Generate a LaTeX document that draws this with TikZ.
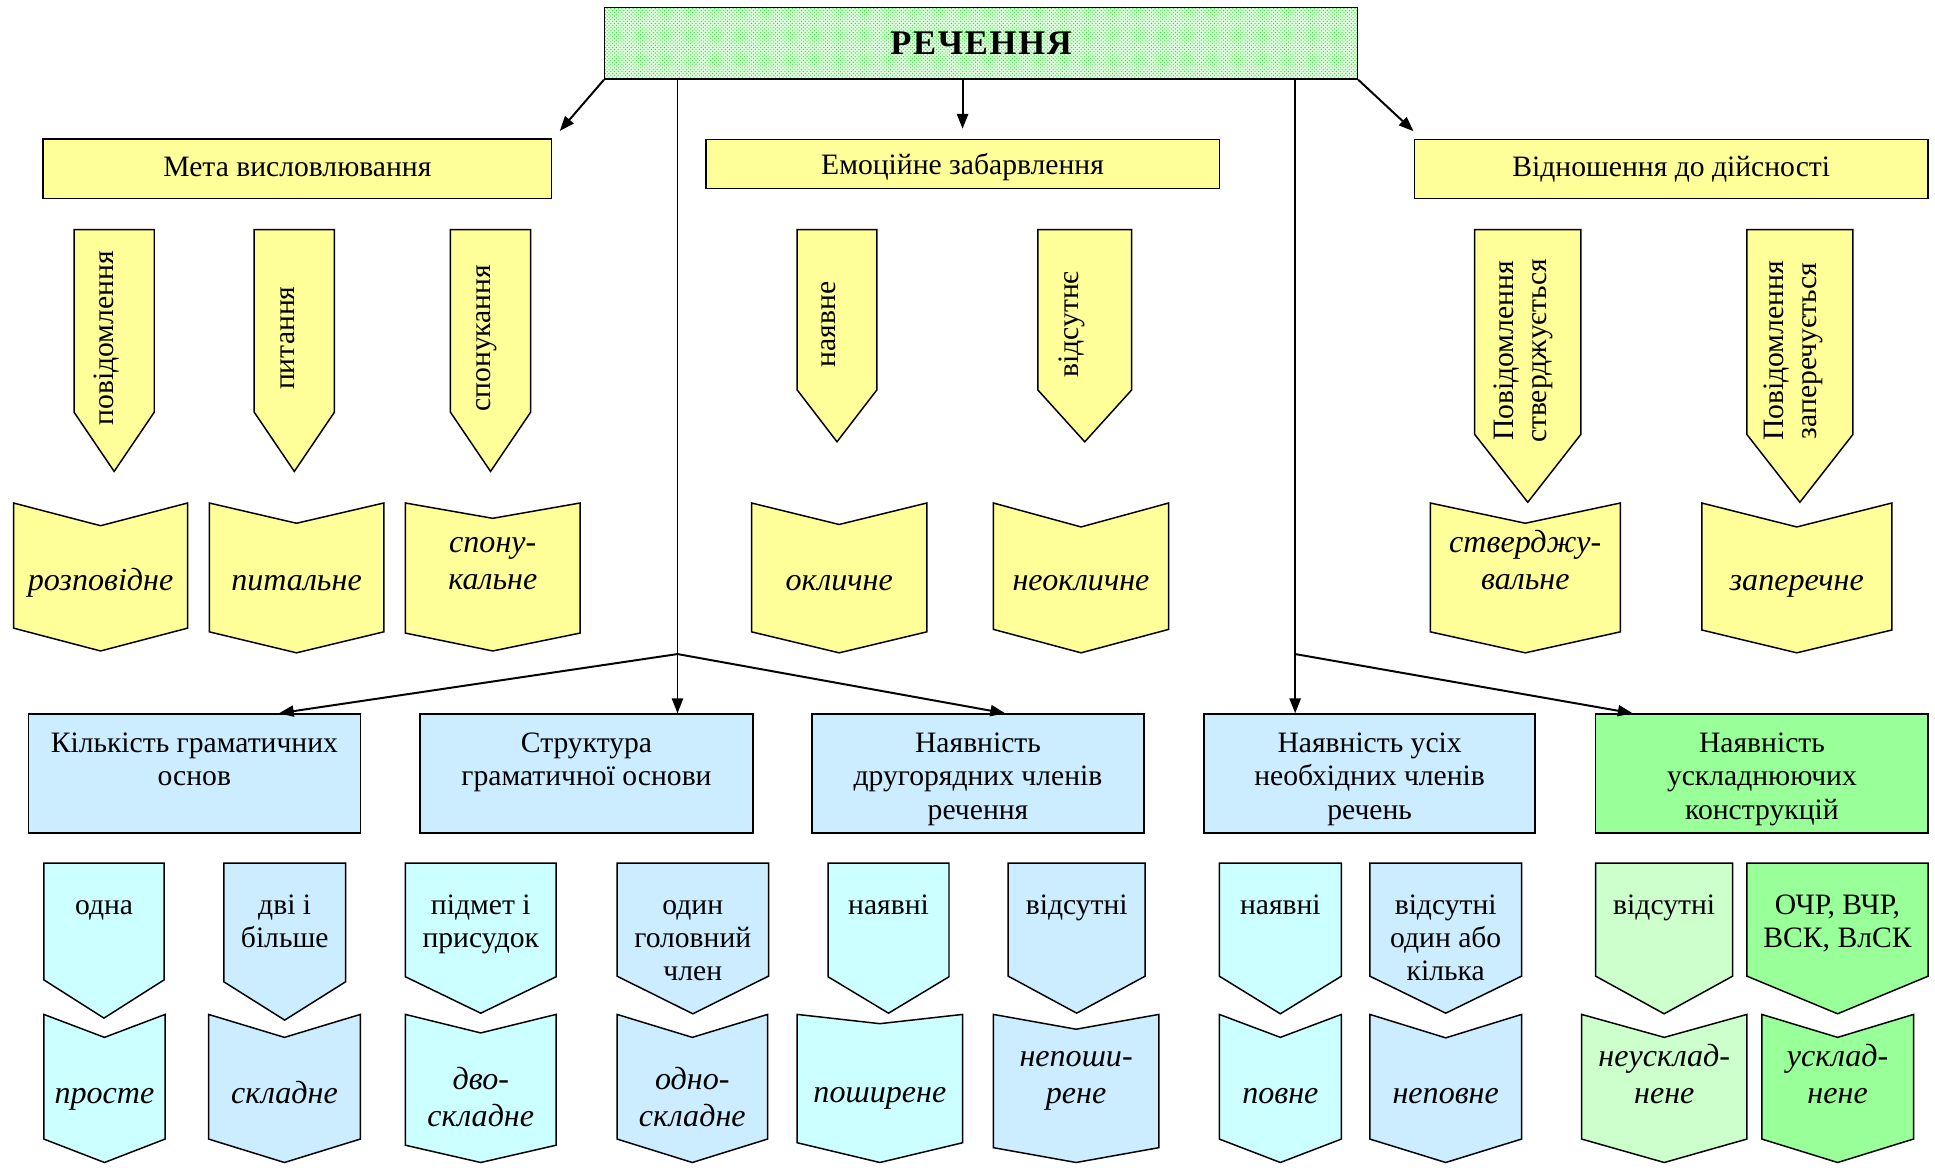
\documentclass[tikz,border=0pt]{standalone}
\usepackage{fontspec}
\setmainfont{Liberation Serif}
\newfontfamily\titlefont[LetterSpace=5]{Liberation Serif}
\usetikzlibrary{arrows.meta,patterns}

\definecolor{yel}{RGB}{255,255,153}
\definecolor{cyn}{RGB}{204,255,255}
\definecolor{blu}{RGB}{204,236,255}
\definecolor{pgr}{RGB}{204,255,204}
\definecolor{grn}{RGB}{153,255,153}
\definecolor{topbg}{RGB}{222,252,222}
\definecolor{topdot}{RGB}{30,225,30}

% down-pointing tag: x1, x2, top, shoulder, tip, fill
\newcommand\TagShape[6]{%
  \filldraw[shp, fill=#6] (#1,#3) -- (#2,#3) -- (#2,#4) -- ({(#1+#2)/2},#5) -- (#1,#4) -- cycle;}
% chevron: x1, x2, top, notch, bottom, tip, fill
\newcommand\ChevShape[7]{%
  \filldraw[shp, fill=#7] (#1,#3) -- ({(#1+#2)/2},#4) -- (#2,#3) -- (#2,#5) -- ({(#1+#2)/2},#6) -- (#1,#5) -- cycle;}

\begin{document}
\begin{tikzpicture}[x=1pt,y=-1pt,
  conn/.style={line width=1.6pt, draw=black},
  arr/.style={conn, -{Triangle[length=12pt,width=9pt]}},
  shp/.style={draw=black, line width=1.2pt, line join=miter},
  boxed/.style={draw=black, line width=1.2pt, inner sep=0pt},
  rm/.style={font=\fontsize{24}{27}\selectfont, inner sep=0pt, align=center},
  rmtop/.style={rm, anchor=north},
  it/.style={font=\fontsize{26}{30}\selectfont\itshape, inner sep=0pt, align=center},
  ittop/.style={it, anchor=north},
  vt/.style={rm, rotate=90, anchor=base},
  vt2/.style={rm, rotate=90, anchor=center},
]
\useasboundingbox (0,0) rectangle (1568,946);

% ---------- root ----------
\node[boxed, minimum width=610pt, minimum height=58pt,
      preaction={fill=topbg}, pattern=crosshatch dots, pattern color=topdot,
      font=\titlefont\bfseries\fontsize{28}{32}\selectfont,
      text height=18.5pt, text depth=0pt] (root) at (795,35) {РЕЧЕННЯ};

% ---------- first level headers ----------
\node[boxed, fill=yel, minimum width=412pt, minimum height=48pt, rm,
      text height=13pt, text depth=0pt] (meta) at (241,136.7) {Мета висловлювання};
\node[boxed, fill=yel, minimum width=416pt, minimum height=39.7pt, rm,
      text height=18pt, text depth=0pt] (emo) at (780,132.8) {Емоційне забарвлення};
\node[boxed, fill=yel, minimum width=416.5pt, minimum height=47.8pt, rm,
      text height=13pt, text depth=0pt] (rel) at (1354.25,136.8) {Відношення до дійсності};

% ---------- yellow tags ----------
\TagShape{60}{125}{186}{334}{382}{yel}
\TagShape{206}{271}{186}{334}{382}{yel}
\TagShape{365}{430}{186}{334}{382}{yel}
\TagShape{646}{710.5}{186}{316}{358}{yel}
\TagShape{841}{917}{186}{316}{358}{yel}
\TagShape{1195}{1281}{186}{352}{407}{yel}
\TagShape{1415.5}{1501.5}{186}{352}{407}{yel}

\node[vt] (q1) at (92,274) {повідомлення};
\node[vt] (q2) at (238.5,274) {питання};
\node[vt] (q3) at (397.5,274) {спонукання};
\node[vt] (q4) at (677,263) {наявне};
\node[vt] (q5) at (874,263) {відсутнє};
\node[vt2] (q6) at (1234.5,284.5) {Повідомлення\\стверджується};
\node[vt2] (q7) at (1453,284.5) {Повідомлення\\заперечується};

% ---------- yellow chevrons ----------
\ChevShape{11}{152}{407.6}{426}{509}{527.5}{yel}
\ChevShape{169.6}{311}{407.6}{424}{512}{529}{yel}
\ChevShape{328.5}{470}{407.6}{420}{513}{527.5}{yel}
\ChevShape{609}{751}{407.6}{425}{512}{529}{yel}
\ChevShape{805}{947}{407.6}{427}{510}{529}{yel}
\ChevShape{1159}{1313}{407.6}{424}{512}{529}{yel}
\ChevShape{1379}{1533}{407.6}{427}{510.5}{529}{yel}

\node[it, anchor=base] (r1) at (81.5,478.3) {розповідне};
\node[it, anchor=base] (r2) at (240.3,478.3) {питальне};
\node[ittop] (r3) at (399.3,426.6) {\strut спону-\\кальне};
\node[it, anchor=base] (r4) at (680,478.3) {окличне};
\node[it, anchor=base] (r5) at (876,478.3) {неокличне};
\node[ittop] (r6) at (1236,426.6) {\strut стверджу-\\вальне};
\node[it, anchor=base] (r7) at (1456,478.3) {заперечне};

% ---------- second level boxes ----------
\node[boxed, fill=blu, minimum width=269pt, minimum height=96.4pt] (kil) at (157.5,626.8) {};
\node[boxed, fill=blu, minimum width=269.5pt, minimum height=96.4pt] (str) at (475.25,626.8) {};
\node[boxed, fill=blu, minimum width=269pt, minimum height=96.4pt] (dru) at (792.5,626.8) {};
\node[boxed, fill=blu, minimum width=268.3pt, minimum height=96.4pt] (usi) at (1109.85,626.8) {};
\node[boxed, fill=grn, minimum width=269.5pt, minimum height=96.4pt] (usk) at (1427.75,626.8) {};

\node[rmtop] (kilT) at (kil.center |- 0,590.7) {\strut Кількість граматичних\\основ};
\node[rmtop] (strT) at (str.center |- 0,590.7) {\strut Структура\\граматичної основи};
\node[rmtop] (druT) at (dru.center |- 0,590.7) {\strut Наявність\\другорядних членів\\речення};
\node[rmtop] (usiT) at (usi.center |- 0,590.7) {\strut Наявність усіх\\необхідних членів\\речень};
\node[rmtop] (uskT) at (usk.center |- 0,590.7) {\strut Наявність\\ускладнюючих\\конструкцій};

% ---------- lower tags ----------
\TagShape{35.5}{133}{699.5}{794}{825}{cyn}
\TagShape{181.4}{280}{699.5}{795.6}{826.6}{blu}
\TagShape{328.5}{450.6}{699.5}{791.5}{821}{cyn}
\TagShape{500}{622.8}{699.5}{791}{821.5}{blu}
\TagShape{671}{769}{699.5}{791.5}{821}{cyn}
\TagShape{817}{928}{699.5}{791}{821}{blu}
\TagShape{988}{1087}{699.5}{791}{821.5}{cyn}
\TagShape{1110}{1233}{699.5}{791}{821}{blu}
\TagShape{1293}{1404}{699.5}{791}{821.5}{pgr}
\TagShape{1415.6}{1562.5}{699.5}{791}{821.5}{grn}

\node[rmtop] (s1) at (84.3,721.6) {\strut одна};
\node[rmtop] (s2) at (230.7,721.6) {\strut дві і\\більше};
\node[rmtop] (s3) at (389.6,721.6) {\strut підмет і\\присудок};
\node[rmtop] (s4) at (561.4,721.6) {\strut один\\головний\\член};
\node[rmtop] (s5) at (720,721.6) {\strut наявні};
\node[rmtop] (s6) at (872.5,721.6) {\strut відсутні};
\node[rmtop] (s7) at (1037.5,721.6) {\strut наявні};
\node[rmtop] (s8) at (1171.5,721.6) {\strut відсутні\\один або\\кілька};
\node[rmtop] (s9) at (1348.5,721.6) {\strut відсутні};
\node[rmtop] (s10) at (1489,721.6) {\strut ОЧР, ВЧР,\\ВСК, ВлСК};

% ---------- lower chevrons ----------
\ChevShape{35.5}{133.8}{822}{840.6}{923}{942}{cyn}
\ChevShape{169}{292}{822}{840.6}{923}{942}{blu}
\ChevShape{328.5}{450.6}{822}{837}{928}{942}{cyn}
\ChevShape{500}{622}{822}{840.6}{923}{942}{blu}
\ChevShape{646}{780}{822}{829.5}{926}{942}{cyn}
\ChevShape{805}{939}{822}{834}{930}{942}{blu}
\ChevShape{988}{1087}{822}{840.6}{923}{942}{cyn}
\ChevShape{1110}{1233}{822}{841}{923}{942}{blu}
\ChevShape{1281.6}{1415.6}{822}{840.6}{923}{942}{pgr}
\ChevShape{1427.6}{1550.6}{822}{840.6}{923}{942}{grn}

\node[it, anchor=base] (k1) at (84.6,894) {просте};
\node[it, anchor=base] (k2) at (230.5,894) {складне};
\node[ittop] (k3) at (389.6,862) {\strut дво-\\складне};
\node[ittop] (k4) at (561,862) {\strut одно-\\складне};
\node[it, anchor=base] (k5) at (713,893) {поширене};
\node[ittop] (k6) at (872,842.7) {\strut непоши-\\рене};
\node[it, anchor=base] (k7) at (1037.5,894) {повне};
\node[it, anchor=base] (k8) at (1171.5,894) {неповне};
\node[ittop] (k9) at (1348.6,842.7) {\strut неусклад-\\нене};
\node[ittop] (k10) at (1489.1,842.7) {\strut усклад-\\нене};

% ---------- connectors ----------
\coordinate (jl) at (549,530);
\coordinate (jr) at (1049.5,530);

\draw[arr] (root.south west) -- ([xshift=6pt,yshift=6pt]meta.north east);
\draw[arr] (root.south -| emo.north) -- ([yshift=8pt]emo.north);
\draw[arr] (root.south east) -- ([yshift=6pt]rel.north west);

\draw[conn] (root.south -| jl) -- (jl);
\draw[arr] (jl) -- ([xshift=68.5pt]kil.north);
\draw[arr] (jl) -- (jl |- str.north);
\draw[arr] (jl) -- ([xshift=22pt]dru.north);

\draw[conn] (root.south -| jr) -- (jr);
\draw[arr] (jr) -- (jr |- usi.north);
\draw[arr] (jr) -- ([xshift=-104.75pt]usk.north);
\end{tikzpicture}
\end{document}
